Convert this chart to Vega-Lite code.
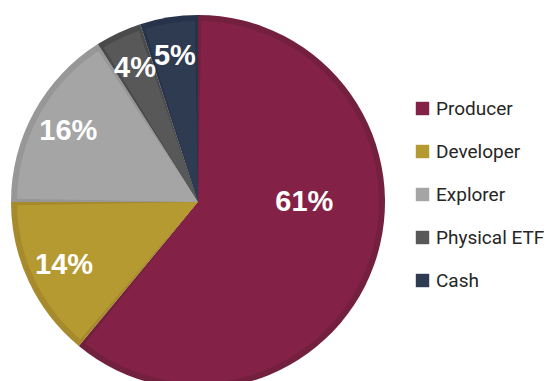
{
  "$schema": "https://vega.github.io/schema/vega-lite/v6.json",
  "width": 396,
  "height": 404,
  "autosize": "none",
  "padding": {"left": 0, "top": 0, "right": 162, "bottom": 0},
  "background": "white",
  "config": {"view": {"stroke": null}},
  "data": {
    "values": [
      {"category": "Producer", "share": 0.61, "order": 1},
      {"category": "Developer", "share": 0.14, "order": 2},
      {"category": "Explorer", "share": 0.16, "order": 3},
      {"category": "Physical ETF", "share": 0.04, "order": 4},
      {"category": "Cash", "share": 0.05, "order": 5}
    ]
  },
  "encoding": {
    "theta": {"field": "share", "type": "quantitative", "stack": true},
    "order": {"field": "order", "type": "quantitative"}
  },
  "layer": [
    {
      "mark": {"type": "arc", "outerRadius": 187},
      "encoding": {
        "color": {
          "field": "category", "type": "nominal",
          "scale": {"domain": ["Producer", "Developer", "Explorer", "Physical ETF", "Cash"],
                    "range": ["#73203F", "#A68A2B", "#979797", "#4A4A4A", "#27334A"]},
          "legend": null
        }
      }
    },
    {
      "mark": {"type": "arc", "outerRadius": 181, "padAngle": 0.035},
      "encoding": {
        "color": {
          "field": "category", "type": "nominal",
          "scale": {"domain": ["Producer", "Developer", "Explorer", "Physical ETF", "Cash"],
                    "range": ["#832146", "#B59A31", "#A5A5A5", "#585858", "#2F3B50"]},
          "legend": {
            "title": null,
            "orient": "none",
            "legendX": 413,
            "legendY": 99,
            "padding": 0,
            "symbolType": "square",
            "symbolSize": 180,
            "symbolStrokeWidth": 0,
            "labelFont": "Roboto",
            "labelFontSize": 19,
            "labelColor": "#262626",
            "labelOffset": 4,
            "rowPadding": 23
          }
        }
      }
    },
    {
      "mark": {"type": "text", "radius": 148, "font": "Liberation Sans", "fontWeight": "bold", "fontSize": 29, "fill": "white", "align": "center", "baseline": "middle"},
      "encoding": {
        "text": {"condition": {"test": "datum.share < 0.5", "field": "share", "type": "quantitative", "format": ".0%"}, "value": ""}
      }
    },
    {
      "mark": {"type": "text", "radius": 113, "dy": -38, "font": "Liberation Sans", "fontWeight": "bold", "fontSize": 29, "fill": "white", "align": "center", "baseline": "middle"},
      "encoding": {
        "text": {"condition": {"test": "datum.share >= 0.5", "field": "share", "type": "quantitative", "format": ".0%"}, "value": ""}
      }
    }
  ],
  "resolve": {"scale": {"color": "independent"}}
}
